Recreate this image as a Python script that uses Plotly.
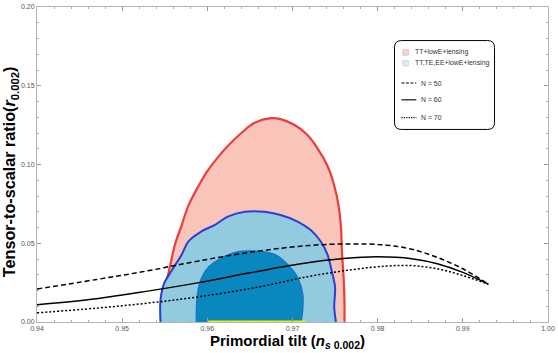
import plotly.graph_objects as go

# ---------------- data ----------------
# TT+lowE+lensing, 95% contour (ns, r)
tt95_ns = [0.9546, 0.9546, 0.9549, 0.9555, 0.9562, 0.9570, 0.9578, 0.9590, 0.9599, 0.9609,
           0.9624, 0.9640, 0.9655, 0.9675, 0.9686, 0.9702, 0.9717, 0.9729, 0.9741, 0.9749,
           0.9754, 0.9757, 0.9758, 0.9760, 0.9761, 0.9761]
tt95_r = [0.0000, 0.0013, 0.0179, 0.0325, 0.0492, 0.0617, 0.0742, 0.0867, 0.0950, 0.1023,
          0.1117, 0.1200, 0.1263, 0.1294, 0.1288, 0.1252, 0.1190, 0.1106, 0.0992, 0.0867,
          0.0742, 0.0596, 0.0450, 0.0283, 0.0138, 0.0000]

# TT,TE,EE+lowE+lensing, 95% contour
all95_ns = [0.9545, 0.9545, 0.9549, 0.9558, 0.9570, 0.9578, 0.9593, 0.9609, 0.9624, 0.9644,
            0.9667, 0.9686, 0.9706, 0.9721, 0.9733, 0.9741, 0.9746, 0.9750, 0.9749, 0.9751]
all95_r = [0.0000, 0.0138, 0.0242, 0.0325, 0.0429, 0.0513, 0.0575, 0.0617, 0.0669, 0.0700,
           0.0700, 0.0679, 0.0638, 0.0585, 0.0513, 0.0429, 0.0325, 0.0221, 0.0096, 0.0000]

# TT,TE,EE+lowE+lensing, 68% contour
all68_ns = [0.9587, 0.9588, 0.9592, 0.9601, 0.9617, 0.9636, 0.9659, 0.9679, 0.9694, 0.9706,
            0.9712, 0.9712, 0.9710]
all68_r = [0.0000, 0.0158, 0.0263, 0.0346, 0.0408, 0.0446, 0.0450, 0.0429, 0.0367, 0.0283,
           0.0179, 0.0075, 0.0000]

# yellow segment on the ns axis
yellow_ns = [0.9601, 0.9715]
yellow_r = [0.0, 0.0]

# model predictions
n50_ns = [0.940, 0.947, 0.953, 0.959, 0.966, 0.972, 0.977, 0.981, 0.984, 0.987, 0.990, 0.993]
n50_r = [0.0210, 0.0270, 0.0325, 0.0388, 0.0450, 0.0486, 0.0496, 0.0488, 0.0462, 0.0410, 0.0338, 0.0240]

n60_ns = [0.940, 0.947, 0.953, 0.959, 0.965, 0.971, 0.976, 0.980, 0.984, 0.987, 0.990, 0.993]
n60_r = [0.0110, 0.0148, 0.0196, 0.0250, 0.0312, 0.0370, 0.0403, 0.0414, 0.0402, 0.0370, 0.0315, 0.0240]

n70_ns = [0.940, 0.947, 0.953, 0.959, 0.966, 0.972, 0.977, 0.981, 0.984, 0.987, 0.990, 0.993]
n70_r = [0.0058, 0.0088, 0.0120, 0.0160, 0.0222, 0.0290, 0.0332, 0.0355, 0.0358, 0.0338, 0.0295, 0.0240]

x_ticks = [0.94, 0.95, 0.96, 0.97, 0.98, 0.99, 1.00]
x_tick_labels = ["0.94", "0.95", "0.96", "0.97", "0.98", "0.99", "1.00"]
y_ticks = [0.00, 0.05, 0.10, 0.15, 0.20]
y_tick_labels = ["0.00", "0.05", "0.10", "0.15", "0.20"]

legend_labels = ["TT+lowE+lensing", "TT,TE,EE+lowE+lensing", "N = 50", "N = 60", "N = 70"]

# ---------------- figure ----------------
W, H = 558, 353
ML, MR, MT, MB = 37, 5, 3, 31
PW, PH = W - ML - MR, H - MT - MB


def px(x):
    return (x - ML) / PW


def py(y):
    return (H - MB - y) / PH


fig = go.Figure()

fig.add_trace(go.Scatter(x=tt95_ns, y=tt95_r, mode="lines", fill="toself",
                         fillcolor="#f9c5bb", line=dict(color="#ec3d3a", width=2.2, shape="spline"),
                         showlegend=False, hoverinfo="skip"))
fig.add_trace(go.Scatter(x=all95_ns, y=all95_r, mode="lines", fill="toself",
                         fillcolor="#92cbe0", line=dict(color="#2a3ed2", width=2, shape="spline"),
                         showlegend=False, hoverinfo="skip"))
fig.add_trace(go.Scatter(x=all68_ns, y=all68_r, mode="lines", fill="toself",
                         fillcolor="#0988c0", line=dict(color="#1c6fc0", width=1.3, shape="spline"),
                         showlegend=False, hoverinfo="skip"))
fig.add_trace(go.Scatter(x=yellow_ns, y=yellow_r, mode="lines",
                         line=dict(color="#f0f000", width=3), showlegend=False, hoverinfo="skip"))

fig.add_trace(go.Scatter(x=n50_ns, y=n50_r, mode="lines",
                         line=dict(color="black", width=1.5, dash="5px,3px", shape="spline"),
                         showlegend=False))
fig.add_trace(go.Scatter(x=n60_ns, y=n60_r, mode="lines",
                         line=dict(color="black", width=1.5, shape="spline"),
                         showlegend=False))
fig.add_trace(go.Scatter(x=n70_ns, y=n70_r, mode="lines",
                         line=dict(color="black", width=1.5, dash="2px,2px", shape="spline"),
                         showlegend=False))

# ---------------- manual legend ----------------
bx0, bx1, by0, by1, rad = 398, 499, 37, 127, 7
rx, ry = rad / PW, rad / PH
X0, X1, Y0, Y1 = px(bx0), px(bx1), py(by1), py(by0)
path = (f"M {X0+rx},{Y0} L {X1-rx},{Y0} Q {X1},{Y0} {X1},{Y0+ry} "
        f"L {X1},{Y1-ry} Q {X1},{Y1} {X1-rx},{Y1} L {X0+rx},{Y1} "
        f"Q {X0},{Y1} {X0},{Y1-ry} L {X0},{Y0+ry} Q {X0},{Y0} {X0+rx},{Y0} Z")
shapes = [dict(type="path", path=path, xref="paper", yref="paper",
               line=dict(color="black", width=1), fillcolor="white", layer="above")]

rows = [49, 60, 80, 97, 115]
sq_cols = [("#fcd3d3", "#e8a3a3"), ("#dcecf9", "#a8c9e6")]
for i, (fc, lc) in enumerate(sq_cols):
    yc = rows[i]
    shapes.append(dict(type="rect", xref="paper", yref="paper",
                       x0=px(406.5), x1=px(412), y0=py(yc + 2.8), y1=py(yc - 2.8),
                       fillcolor=fc, line=dict(color=lc, width=0.6), layer="above"))
dashes = ["3px,1.5px", "solid", "1.2px,1.2px"]
for i, d in enumerate(dashes):
    yc = rows[2 + i]
    shapes.append(dict(type="line", xref="paper", yref="paper",
                       x0=px(405), x1=px(420), y0=py(yc), y1=py(yc),
                       line=dict(color="black", width=1.1, dash=d), layer="above"))

annotations = []
for i, lab in enumerate(legend_labels):
    xs = 416.5 if i < 2 else 423
    annotations.append(dict(text=lab, x=px(xs), y=py(rows[i]), xref="paper", yref="paper",
                            xanchor="left", yanchor="middle", showarrow=False,
                            font=dict(family="Liberation Sans", size=6.9, color="#333")))

annotations.append(dict(text="<b>Primordial tilt (<i>n</i><sub><i>s</i> 0.002</sub>)</b>",
                        x=px(290), y=py(342), xref="paper", yref="paper",
                        xanchor="center", yanchor="middle", showarrow=False,
                        font=dict(family="Liberation Sans", size=15, color="black")))
annotations.append(dict(text="<b>Tensor-to-scalar ratio(<i>r</i><sub>0.002</sub>)</b>",
                        x=px(10), y=py(170), xref="paper", yref="paper", textangle=-90,
                        xanchor="center", yanchor="middle", showarrow=False,
                        font=dict(family="Liberation Sans", size=16.2, color="black")))

axis_common = dict(showgrid=False, zeroline=False, showline=True, linecolor="#b5b5b5",
                   linewidth=1, mirror="allticks", ticks="inside", ticklen=4, tickcolor="#999",
                   tickwidth=1, ticklabeloverflow="allow",
                   tickfont=dict(family="Liberation Sans", size=7, color="#555"))

fig.update_layout(
    width=W, height=H,
    margin=dict(l=ML, r=MR, t=MT, b=MB, pad=0),
    paper_bgcolor="white", plot_bgcolor="white",
    xaxis=dict(range=[0.94, 1.0], tickvals=x_ticks, ticktext=x_tick_labels,
               minor=dict(dtick=0.002, ticks="inside", ticklen=2, tickcolor="#aaa"),
               **axis_common),
    yaxis=dict(range=[0, 0.2], tickvals=y_ticks, ticktext=y_tick_labels,
               minor=dict(dtick=0.01, ticks="inside", ticklen=2, tickcolor="#aaa"),
               **axis_common),
    shapes=shapes, annotations=annotations, showlegend=False,
)

fig.write_html("out.html", config={"displayModeBar": False},
               post_script="document.body.style.margin='0px';document.body.style.overflow='hidden';")
